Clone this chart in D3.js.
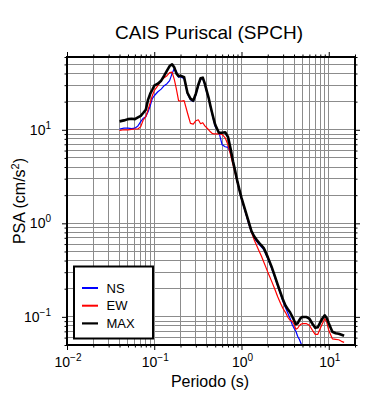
<!DOCTYPE html>
<html>
<head>
<meta charset="utf-8">
<script src="https://cdn.jsdelivr.net/npm/d3@7"></script>
<style>
  body { margin: 0; background: #fff; }
  text { font-family: "Liberation Sans", Arial, Helvetica, sans-serif; fill: #000; }
</style>
</head>
<body>
<div id="main"></div>
<script>
// period (s) and PSA (cm/s2)
const periods = [0.04, 0.045, 0.05, 0.055, 0.06, 0.065, 0.07, 0.075, 0.08, 0.085, 0.09, 0.095,
  0.1, 0.11, 0.12, 0.13, 0.14, 0.15, 0.16, 0.17, 0.18, 0.19, 0.2,
  0.22, 0.24, 0.26, 0.28, 0.3, 0.32, 0.34, 0.36, 0.38, 0.4, 0.42, 0.44, 0.46, 0.48, 0.5,
  0.55, 0.6, 0.65, 0.7, 0.75, 0.8, 0.85, 0.9, 0.95, 1.0,
  1.1, 1.2, 1.3, 1.4, 1.5, 1.6, 1.7, 1.8, 1.9, 2.0,
  2.2, 2.4, 2.6, 2.8, 3.0, 3.2, 3.4, 3.6, 3.8, 4.0, 4.2, 4.4, 4.6, 4.8, 5.0,
  5.5, 6.0, 6.5, 7.0, 7.5, 8.0, 8.5, 9.0, 9.5, 10,
  11, 12, 13, 14, 15];

const nsPSA = [10.2, 10.4, 10.4, 10.3, 10.4, 11.0, 12.2, 13.3, 13.8, 15.6, 18.1, 21.5,
  23.1, 25.5, 27.2, 29.6, 31.1, 33.5, 39.8, 45.5, 41.9, 36.5, 37.0,
  35.2, 24.3, 21.0, 20.0, 23.7, 29.6, 34.8, 35.2, 30.3, 25.2, 21.5, 17.7, 14.8, 12.5, 10.8,
  9.52, 6.9, 6.58, 6.49, 5.66, 4.45, 3.51, 2.70, 2.19, 1.82,
  1.34, 1.01, 0.807, 0.695, 0.638, 0.593, 0.557, 0.524, 0.469, 0.420,
  0.336, 0.266, 0.213, 0.175, 0.145, 0.125, 0.1094, 0.0966, 0.0834, 0.0755, 0.0702, 0.0620, 0.0575, 0.0521, 0.0496,
  0.045, null, null, null, null, null, null, null, null, null,
  null, null, null, null, null];

const ewPSA = [9.83, 10.0, 10.0, 10.1, 10.2, 10.2, 10.8, 12.8, 13.8, 16.4, 19.5, 23.1,
  26.2, 29.6, 33.5, 36.1, 37.9, 40.8, 41.4, 34.4, 26.8, 20.5, 20.2,
  20.5, 15.2, 11.7, 11.5, 12.5, 12.8, 11.6, 11.9, 11.0, 10.5, 10.0, 9.52, 9.17, 9.06, 9.06,
  9.06, 8.95, 8.21, 6.9, 5.39, 4.22, 3.38, 2.70, 2.22, 1.85,
  1.37, 1.03, 0.807, 0.662, 0.571, 0.499, 0.441, 0.385, 0.340, 0.301,
  0.244, 0.200, 0.164, 0.140, 0.122, 0.111, 0.099, 0.092, 0.0897, 0.0834, 0.0736, 0.0755, 0.0803, 0.0834, 0.0848,
  0.0848, 0.0813, 0.0718, 0.065, 0.065, 0.0755, 0.0853, 0.0955, 0.0875, 0.0718,
  0.0582, 0.0575, 0.0569, 0.0547, 0.0534];

const maxPSA = [12.3, 12.6, 13.0, 13.1, 13.0, 13.6, 14.1, 15.2, 16.4, 21.0, 24.3, 26.8,
  29.6, 31.1, 33.5, 37.9, 42.9, 48.0, 50.1, 46.2, 39.8, 37.4, 37.9,
  36.5, 24.9, 21.5, 20.5, 24.3, 30.3, 35.6, 36.1, 31.1, 25.9, 22.0, 18.1, 15.2, 13.0, 11.3,
  9.29, 9.29, 9.40, 8.41, 6.25, 4.59, 3.55, 2.77, 2.25, 1.87,
  1.39, 1.06, 0.827, 0.723, 0.662, 0.615, 0.578, 0.543, 0.486, 0.435,
  0.348, 0.276, 0.221, 0.181, 0.151, 0.1315, 0.1205, 0.112, 0.1014, 0.092, 0.0834, 0.0853, 0.092, 0.0977, 0.0998,
  0.0998, 0.0955, 0.0843, 0.0763, 0.0774, 0.0875, 0.0966, 0.104, 0.0966, 0.0853,
  0.0692, 0.0667, 0.066, 0.0643, 0.0627];

const seriesNames = ["NS", "EW", "MAX"];
const seriesColors = ["#0000ff", "#ff0000", "#000000"];
const seriesWidths = [1.2, 1.2, 2.6];
const xDecades = [-2, -1, 0, 1];
const yDecades = [-1, 0, 1];

const width = 390, height = 400;
const mLeft = 67, mRight = 355, mTop = 57, mBottom = 345;

const svg = d3.select('#main')
  .append('svg')
  .attr('width', width)
  .attr('height', height);

const x = d3.scaleLog().domain([0.01, 20]).range([mLeft, mRight]);
const y = d3.scaleLog().domain([0.05, 60]).range([mBottom, mTop]);

// 1..9 multiples inside the domain
function logTicks(scale, decades) {
  const [lo, hi] = scale.domain();
  const out = [];
  d3.range(decades[0] - 1, decades[decades.length - 1] + 2).forEach(function (d) {
    for (let m = 1; m <= 9; m++) {
      const v = m * Math.pow(10, d);
      if (v >= lo * 0.9999 && v <= hi * 1.0001) out.push(v);
    }
  });
  return out;
}
const xMajor = xDecades.map(d => Math.pow(10, d));
const yMajor = yDecades.map(d => Math.pow(10, d));
const xAll = logTicks(x, xDecades);
const yAll = logTicks(y, yDecades);
const xMinor = xAll.filter(v => xMajor.indexOf(v) < 0);
const yMinor = yAll.filter(v => yMajor.indexOf(v) < 0);

// grid
const grid = svg.append('g')
  .attr('stroke', '#8c8c8c')
  .attr('stroke-width', 1)
  .attr('shape-rendering', 'crispEdges');
grid.selectAll('line.gx')
  .data(xAll.filter(v => x(v) > mLeft + 1 && x(v) < mRight - 1))
  .enter().append('line')
  .attr('x1', d => x(d)).attr('x2', d => x(d))
  .attr('y1', mTop).attr('y2', mBottom);
grid.selectAll('line.gy')
  .data(yAll.filter(v => y(v) > mTop + 1 && y(v) < mBottom - 1))
  .enter().append('line')
  .attr('y1', d => y(d)).attr('y2', d => y(d))
  .attr('x1', mLeft).attr('x2', mRight);

// curves
svg.append('defs').append('clipPath').attr('id', 'clip')
  .append('rect')
  .attr('x', mLeft).attr('y', mTop)
  .attr('width', mRight - mLeft).attr('height', mBottom - mTop);

const line = d3.line()
  .defined(d => d[1] != null)
  .x(d => x(d[0]))
  .y(d => y(d[1]));

[nsPSA, ewPSA, maxPSA].forEach(function (vals, i) {
  svg.append('path')
    .attr('clip-path', 'url(#clip)')
    .attr('d', line(periods.map((p, k) => [p, vals[k]])))
    .attr('fill', 'none')
    .attr('stroke', seriesColors[i])
    .attr('stroke-width', seriesWidths[i])
    .attr('stroke-linejoin', 'round');
});

// ticks on all four sides
function drawTicks(axisFn, scale, values, size, transform) {
  svg.append('g')
    .attr('transform', transform)
    .call(axisFn(scale).tickValues(values).tickSize(size).tickSizeOuter(0).tickFormat(''))
    .call(g => g.select('.domain').remove())
    .selectAll('line').attr('stroke-width', 1);
}
drawTicks(d3.axisBottom, x, xMajor, 5, `translate(0,${mBottom})`);
drawTicks(d3.axisBottom, x, xMinor, 2.5, `translate(0,${mBottom})`);
drawTicks(d3.axisTop, x, xMajor, 5, `translate(0,${mTop})`);
drawTicks(d3.axisTop, x, xMinor, 2.5, `translate(0,${mTop})`);
drawTicks(d3.axisLeft, y, yMajor, 5, `translate(${mLeft},0)`);
drawTicks(d3.axisLeft, y, yMinor, 2.5, `translate(${mLeft},0)`);
drawTicks(d3.axisRight, y, yMajor, 5, `translate(${mRight},0)`);
drawTicks(d3.axisRight, y, yMinor, 2.5, `translate(${mRight},0)`);

// frame
svg.append('rect')
  .attr('x', mLeft).attr('y', mTop)
  .attr('width', mRight - mLeft).attr('height', mBottom - mTop)
  .attr('fill', 'none').attr('stroke', '#000').attr('stroke-width', 2);

// tick labels 10^n
function powLabel(sel, exp) {
  sel.append('tspan').text('10');
  sel.append('tspan').attr('dy', -6).attr('font-size', 10)
    .text(exp < 0 ? '\u2212' + Math.abs(exp) : String(exp));
}
xDecades.forEach(function (d) {
  const t = svg.append('text')
    .attr('x', x(Math.pow(10, d)) + 1)
    .attr('y', 367)
    .attr('text-anchor', 'middle')
    .attr('font-size', 14);
  powLabel(t, d);
});
yDecades.forEach(function (d) {
  const t = svg.append('text')
    .attr('x', 51)
    .attr('y', y(Math.pow(10, d)) + 5)
    .attr('text-anchor', 'end')
    .attr('font-size', 14);
  powLabel(t, d);
});

// titles
svg.append('text')
  .attr('x', 209).attr('y', 39)
  .attr('text-anchor', 'middle')
  .attr('font-size', 19)
  .text('CAIS Puriscal (SPCH)');

svg.append('text')
  .attr('x', 210).attr('y', 387)
  .attr('text-anchor', 'middle')
  .attr('font-size', 16)
  .text('Periodo (s)');

const yl = svg.append('text')
  .attr('transform', `translate(25,${(mTop + mBottom) / 2}) rotate(-90)`)
  .attr('text-anchor', 'middle')
  .attr('font-size', 16);
yl.append('tspan').text('PSA (cm/s');
yl.append('tspan').attr('dy', -6).attr('font-size', 11).text('2');
yl.append('tspan').attr('dy', 6).text(')');

// legend
const legend = svg.append('g');
legend.append('rect')
  .attr('x', 74).attr('y', 266.5)
  .attr('width', 79).attr('height', 72)
  .attr('fill', '#fff').attr('stroke', '#000').attr('stroke-width', 2);
seriesNames.forEach(function (name, i) {
  const ly = 288 + i * 17.7;
  legend.append('line')
    .attr('x1', 82).attr('x2', 98)
    .attr('y1', ly).attr('y2', ly)
    .attr('stroke', seriesColors[i])
    .attr('stroke-width', i === 2 ? 2.2 : 2);
  legend.append('text')
    .attr('x', 106.5).attr('y', ly + 4.5)
    .attr('font-size', 13)
    .text(name);
});
</script>
</body>
</html>
